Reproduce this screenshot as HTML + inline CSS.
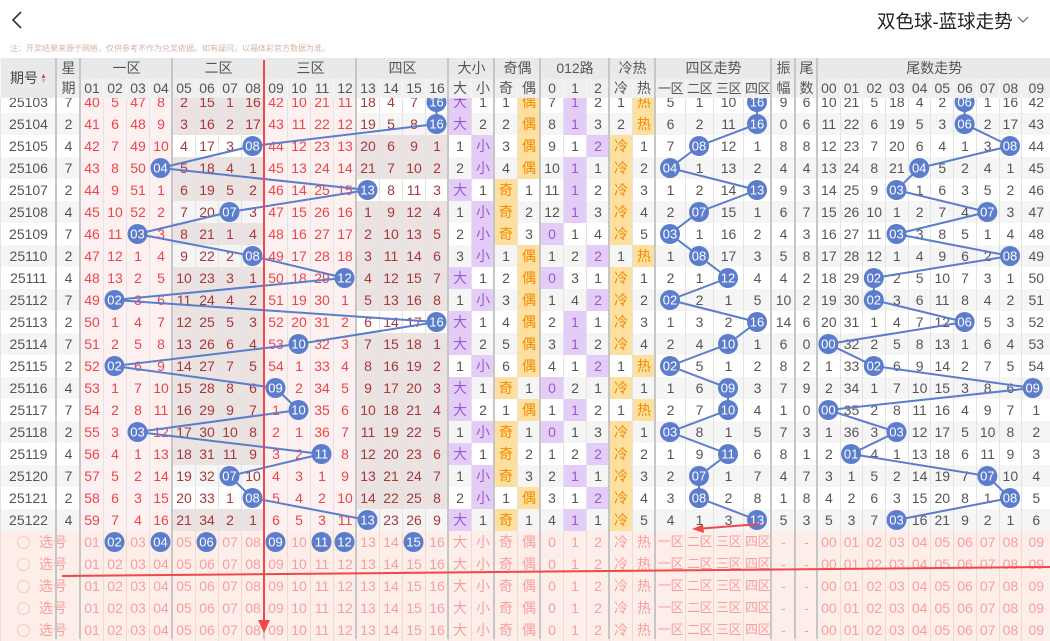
<!DOCTYPE html>
<html><head><meta charset="utf-8"><style>
*{margin:0;padding:0;box-sizing:border-box}
body{width:1050px;height:639px;overflow:hidden;background:#fff;font-family:"Liberation Sans","Noto Sans CJK SC",sans-serif;position:relative}
.abs{position:absolute}
table{border-collapse:collapse;table-layout:fixed;position:absolute;left:0}
td{height:22px;text-align:center;font-size:14px;color:#555;border-left:1px solid #e3e3e3;padding:0;white-space:nowrap;overflow:hidden;line-height:22px}
#body{top:91px}
#body tr:nth-child(even) td{background:#f5f5f5}
#body td:nth-child(n+3):nth-child(-n+6),#body td:nth-child(n+11):nth-child(-n+14){background:#fdf0f0!important;color:#e8474b}
#body td:nth-child(n+7):nth-child(-n+10),#body td:nth-child(n+15):nth-child(-n+18){background:#ebe2e2!important;color:#a8383a}
#body tr.n2 td:nth-child(n+7):nth-child(-n+10){background:transparent!important}
#body tr.n2:nth-child(even) td:nth-child(n+7):nth-child(-n+10){background:#f5f5f5!important}
#body tr.n4 td:nth-child(n+15):nth-child(-n+18){background:transparent!important}
#body tr.n4:nth-child(even) td:nth-child(n+15):nth-child(-n+18){background:#f5f5f5!important}
#body td.p{background:#e3cdf7!important;color:#9b59d0}
#body td.y{background:#fde0a0!important;color:#f08a00}
#sel{top:531px}
#sel td{background:#fdeee9;color:#f5a0a0;border-left:1px solid #f3d8d0}
#sel td:nth-child(n+27):nth-child(-n+30){font-size:13px;letter-spacing:-0.5px}
#hd{top:58px;z-index:5}
#hd td{background:#e9e9e9;color:#555;border-left:1px solid #f6f6f6;font-size:14px}
#hd tr:first-child td{height:21px;line-height:21px}
#hd tr:nth-child(2) td{height:19px;line-height:19px;background:#efefef}
#hd td.s{font-size:13px;letter-spacing:-0.5px}
.dv{position:absolute;top:58px;width:2px;height:581px;background:#c6c6c6;z-index:2}
</style></head><body>
<svg class="abs" style="left:0;top:0" width="40" height="40"><polyline points="21,12 13,20 21,28" fill="none" stroke="#333" stroke-width="1.6"/></svg>
<div class="abs" style="left:877px;top:8px;font-size:18.5px;color:#222;font-family:'Liberation Sans','Noto Sans CJK SC',sans-serif">双色球-蓝球走势</div>
<svg class="abs" style="left:1016px;top:14px" width="16" height="12"><polyline points="2,3 7,8 12,3" fill="none" stroke="#666" stroke-width="1.2"/></svg>
<div class="abs" style="left:10px;top:43px;font-size:8px;color:#d2b6a6;letter-spacing:0">注：开奖结果来源于网络，仅供参考不作为兑奖依据。如有疑问，以福体彩官方数据为准。</div>

<table id="body" style="width:1050px">
<colgroup><col style="width:56px"><col style="width:24px"><col span="16" style="width:23px"><col span="7" style="width:23px"><col span="2" style="width:23px"><col style="width:30px"><col style="width:28px"><col style="width:30px"><col style="width:28px"><col style="width:24px"><col style="width:22px"><col span="9" style="width:22.7px"><col style="width:28.7px"></colgroup>
<tr class="n4"><td>25103</td><td>7</td><td>40</td><td>5</td><td>47</td><td>8</td><td>2</td><td>15</td><td>1</td><td>16</td><td>42</td><td>10</td><td>21</td><td>11</td><td>18</td><td>4</td><td>7</td><td></td><td class="p">大</td><td>1</td><td>1</td><td class="y">偶</td><td>7</td><td class="p">1</td><td>2</td><td>1</td><td class="y">热</td><td>5</td><td>1</td><td>10</td><td></td><td>9</td><td>6</td><td>10</td><td>21</td><td>5</td><td>18</td><td>4</td><td>2</td><td></td><td>1</td><td>16</td><td>42</td></tr>
<tr class="n4"><td>25104</td><td>2</td><td>41</td><td>6</td><td>48</td><td>9</td><td>3</td><td>16</td><td>2</td><td>17</td><td>43</td><td>11</td><td>22</td><td>12</td><td>19</td><td>5</td><td>8</td><td></td><td class="p">大</td><td>2</td><td>2</td><td class="y">偶</td><td>8</td><td class="p">1</td><td>3</td><td>2</td><td class="y">热</td><td>6</td><td>2</td><td>11</td><td></td><td>0</td><td>6</td><td>11</td><td>22</td><td>6</td><td>19</td><td>5</td><td>3</td><td></td><td>2</td><td>17</td><td>43</td></tr>
<tr class="n2"><td>25105</td><td>4</td><td>42</td><td>7</td><td>49</td><td>10</td><td>4</td><td>17</td><td>3</td><td></td><td>44</td><td>12</td><td>23</td><td>13</td><td>20</td><td>6</td><td>9</td><td>1</td><td>1</td><td class="p">小</td><td>3</td><td class="y">偶</td><td>9</td><td>1</td><td class="p">2</td><td class="y">冷</td><td>1</td><td>7</td><td></td><td>12</td><td>1</td><td>8</td><td>8</td><td>12</td><td>23</td><td>7</td><td>20</td><td>6</td><td>4</td><td>1</td><td>3</td><td></td><td>44</td></tr>
<tr><td>25106</td><td>7</td><td>43</td><td>8</td><td>50</td><td></td><td>5</td><td>18</td><td>4</td><td>1</td><td>45</td><td>13</td><td>24</td><td>14</td><td>21</td><td>7</td><td>10</td><td>2</td><td>2</td><td class="p">小</td><td>4</td><td class="y">偶</td><td>10</td><td class="p">1</td><td>1</td><td class="y">冷</td><td>2</td><td></td><td>1</td><td>13</td><td>2</td><td>4</td><td>4</td><td>13</td><td>24</td><td>8</td><td>21</td><td></td><td>5</td><td>2</td><td>4</td><td>1</td><td>45</td></tr>
<tr class="n4"><td>25107</td><td>2</td><td>44</td><td>9</td><td>51</td><td>1</td><td>6</td><td>19</td><td>5</td><td>2</td><td>46</td><td>14</td><td>25</td><td>15</td><td></td><td>8</td><td>11</td><td>3</td><td class="p">大</td><td>1</td><td class="y">奇</td><td>1</td><td>11</td><td class="p">1</td><td>2</td><td class="y">冷</td><td>3</td><td>1</td><td>2</td><td>14</td><td></td><td>9</td><td>3</td><td>14</td><td>25</td><td>9</td><td></td><td>1</td><td>6</td><td>3</td><td>5</td><td>2</td><td>46</td></tr>
<tr class="n2"><td>25108</td><td>4</td><td>45</td><td>10</td><td>52</td><td>2</td><td>7</td><td>20</td><td></td><td>3</td><td>47</td><td>15</td><td>26</td><td>16</td><td>1</td><td>9</td><td>12</td><td>4</td><td>1</td><td class="p">小</td><td class="y">奇</td><td>2</td><td>12</td><td class="p">1</td><td>3</td><td class="y">冷</td><td>4</td><td>2</td><td></td><td>15</td><td>1</td><td>6</td><td>7</td><td>15</td><td>26</td><td>10</td><td>1</td><td>2</td><td>7</td><td>4</td><td></td><td>3</td><td>47</td></tr>
<tr><td>25109</td><td>7</td><td>46</td><td>11</td><td></td><td>3</td><td>8</td><td>21</td><td>1</td><td>4</td><td>48</td><td>16</td><td>27</td><td>17</td><td>2</td><td>10</td><td>13</td><td>5</td><td>2</td><td class="p">小</td><td class="y">奇</td><td>3</td><td class="p">0</td><td>1</td><td>4</td><td class="y">冷</td><td>5</td><td></td><td>1</td><td>16</td><td>2</td><td>4</td><td>3</td><td>16</td><td>27</td><td>11</td><td></td><td>3</td><td>8</td><td>5</td><td>1</td><td>4</td><td>48</td></tr>
<tr class="n2"><td>25110</td><td>2</td><td>47</td><td>12</td><td>1</td><td>4</td><td>9</td><td>22</td><td>2</td><td></td><td>49</td><td>17</td><td>28</td><td>18</td><td>3</td><td>11</td><td>14</td><td>6</td><td>3</td><td class="p">小</td><td>1</td><td class="y">偶</td><td>1</td><td>2</td><td class="p">2</td><td>1</td><td class="y">热</td><td>1</td><td></td><td>17</td><td>3</td><td>5</td><td>8</td><td>17</td><td>28</td><td>12</td><td>1</td><td>4</td><td>9</td><td>6</td><td>2</td><td></td><td>49</td></tr>
<tr><td>25111</td><td>4</td><td>48</td><td>13</td><td>2</td><td>5</td><td>10</td><td>23</td><td>3</td><td>1</td><td>50</td><td>18</td><td>29</td><td></td><td>4</td><td>12</td><td>15</td><td>7</td><td class="p">大</td><td>1</td><td>2</td><td class="y">偶</td><td class="p">0</td><td>3</td><td>1</td><td class="y">冷</td><td>1</td><td>2</td><td>1</td><td></td><td>4</td><td>4</td><td>2</td><td>18</td><td>29</td><td></td><td>2</td><td>5</td><td>10</td><td>7</td><td>3</td><td>1</td><td>50</td></tr>
<tr><td>25112</td><td>7</td><td>49</td><td></td><td>3</td><td>6</td><td>11</td><td>24</td><td>4</td><td>2</td><td>51</td><td>19</td><td>30</td><td>1</td><td>5</td><td>13</td><td>16</td><td>8</td><td>1</td><td class="p">小</td><td>3</td><td class="y">偶</td><td>1</td><td>4</td><td class="p">2</td><td class="y">冷</td><td>2</td><td></td><td>2</td><td>1</td><td>5</td><td>10</td><td>2</td><td>19</td><td>30</td><td></td><td>3</td><td>6</td><td>11</td><td>8</td><td>4</td><td>2</td><td>51</td></tr>
<tr class="n4"><td>25113</td><td>2</td><td>50</td><td>1</td><td>4</td><td>7</td><td>12</td><td>25</td><td>5</td><td>3</td><td>52</td><td>20</td><td>31</td><td>2</td><td>6</td><td>14</td><td>17</td><td></td><td class="p">大</td><td>1</td><td>4</td><td class="y">偶</td><td>2</td><td class="p">1</td><td>1</td><td class="y">冷</td><td>3</td><td>1</td><td>3</td><td>2</td><td></td><td>14</td><td>6</td><td>20</td><td>31</td><td>1</td><td>4</td><td>7</td><td>12</td><td></td><td>5</td><td>3</td><td>52</td></tr>
<tr><td>25114</td><td>7</td><td>51</td><td>2</td><td>5</td><td>8</td><td>13</td><td>26</td><td>6</td><td>4</td><td>53</td><td></td><td>32</td><td>3</td><td>7</td><td>15</td><td>18</td><td>1</td><td class="p">大</td><td>2</td><td>5</td><td class="y">偶</td><td>3</td><td class="p">1</td><td>2</td><td class="y">冷</td><td>4</td><td>2</td><td>4</td><td></td><td>1</td><td>6</td><td>0</td><td></td><td>32</td><td>2</td><td>5</td><td>8</td><td>13</td><td>1</td><td>6</td><td>4</td><td>53</td></tr>
<tr><td>25115</td><td>2</td><td>52</td><td></td><td>6</td><td>9</td><td>14</td><td>27</td><td>7</td><td>5</td><td>54</td><td>1</td><td>33</td><td>4</td><td>8</td><td>16</td><td>19</td><td>2</td><td>1</td><td class="p">小</td><td>6</td><td class="y">偶</td><td>4</td><td>1</td><td class="p">2</td><td>1</td><td class="y">热</td><td></td><td>5</td><td>1</td><td>2</td><td>8</td><td>2</td><td>1</td><td>33</td><td></td><td>6</td><td>9</td><td>14</td><td>2</td><td>7</td><td>5</td><td>54</td></tr>
<tr><td>25116</td><td>4</td><td>53</td><td>1</td><td>7</td><td>10</td><td>15</td><td>28</td><td>8</td><td>6</td><td></td><td>2</td><td>34</td><td>5</td><td>9</td><td>17</td><td>20</td><td>3</td><td class="p">大</td><td>1</td><td class="y">奇</td><td>1</td><td class="p">0</td><td>2</td><td>1</td><td class="y">冷</td><td>1</td><td>1</td><td>6</td><td></td><td>3</td><td>7</td><td>9</td><td>2</td><td>34</td><td>1</td><td>7</td><td>10</td><td>15</td><td>3</td><td>8</td><td>6</td><td></td></tr>
<tr><td>25117</td><td>7</td><td>54</td><td>2</td><td>8</td><td>11</td><td>16</td><td>29</td><td>9</td><td>7</td><td>1</td><td></td><td>35</td><td>6</td><td>10</td><td>18</td><td>21</td><td>4</td><td class="p">大</td><td>2</td><td>1</td><td class="y">偶</td><td>1</td><td class="p">1</td><td>2</td><td>1</td><td class="y">热</td><td>2</td><td>7</td><td></td><td>4</td><td>1</td><td>0</td><td></td><td>35</td><td>2</td><td>8</td><td>11</td><td>16</td><td>4</td><td>9</td><td>7</td><td>1</td></tr>
<tr><td>25118</td><td>2</td><td>55</td><td>3</td><td></td><td>12</td><td>17</td><td>30</td><td>10</td><td>8</td><td>2</td><td>1</td><td>36</td><td>7</td><td>11</td><td>19</td><td>22</td><td>5</td><td>1</td><td class="p">小</td><td class="y">奇</td><td>1</td><td class="p">0</td><td>1</td><td>3</td><td class="y">冷</td><td>1</td><td></td><td>8</td><td>1</td><td>5</td><td>7</td><td>3</td><td>1</td><td>36</td><td>3</td><td></td><td>12</td><td>17</td><td>5</td><td>10</td><td>8</td><td>2</td></tr>
<tr><td>25119</td><td>4</td><td>56</td><td>4</td><td>1</td><td>13</td><td>18</td><td>31</td><td>11</td><td>9</td><td>3</td><td>2</td><td></td><td>8</td><td>12</td><td>20</td><td>23</td><td>6</td><td class="p">大</td><td>1</td><td class="y">奇</td><td>2</td><td>1</td><td>2</td><td class="p">2</td><td class="y">冷</td><td>2</td><td>1</td><td>9</td><td></td><td>6</td><td>8</td><td>1</td><td>2</td><td></td><td>4</td><td>1</td><td>13</td><td>18</td><td>6</td><td>11</td><td>9</td><td>3</td></tr>
<tr class="n2"><td>25120</td><td>7</td><td>57</td><td>5</td><td>2</td><td>14</td><td>19</td><td>32</td><td></td><td>10</td><td>4</td><td>3</td><td>1</td><td>9</td><td>13</td><td>21</td><td>24</td><td>7</td><td>1</td><td class="p">小</td><td class="y">奇</td><td>3</td><td>2</td><td class="p">1</td><td>1</td><td class="y">冷</td><td>3</td><td>2</td><td></td><td>1</td><td>7</td><td>4</td><td>7</td><td>3</td><td>1</td><td>5</td><td>2</td><td>14</td><td>19</td><td>7</td><td></td><td>10</td><td>4</td></tr>
<tr class="n2"><td>25121</td><td>2</td><td>58</td><td>6</td><td>3</td><td>15</td><td>20</td><td>33</td><td>1</td><td></td><td>5</td><td>4</td><td>2</td><td>10</td><td>14</td><td>22</td><td>25</td><td>8</td><td>2</td><td class="p">小</td><td>1</td><td class="y">偶</td><td>3</td><td>1</td><td class="p">2</td><td class="y">冷</td><td>4</td><td>3</td><td></td><td>2</td><td>8</td><td>1</td><td>8</td><td>4</td><td>2</td><td>6</td><td>3</td><td>15</td><td>20</td><td>8</td><td>1</td><td></td><td>5</td></tr>
<tr class="n4"><td>25122</td><td>4</td><td>59</td><td>7</td><td>4</td><td>16</td><td>21</td><td>34</td><td>2</td><td>1</td><td>6</td><td>5</td><td>3</td><td>11</td><td></td><td>23</td><td>26</td><td>9</td><td class="p">大</td><td>1</td><td class="y">奇</td><td>1</td><td>4</td><td class="p">1</td><td>1</td><td class="y">冷</td><td>5</td><td>4</td><td>1</td><td>3</td><td></td><td>5</td><td>3</td><td>5</td><td>3</td><td>7</td><td></td><td>16</td><td>21</td><td>9</td><td>2</td><td>1</td><td>6</td></tr>
</table>

<table id="sel" style="width:1050px">
<colgroup><col style="width:56px"><col style="width:24px"><col span="16" style="width:23px"><col span="7" style="width:23px"><col span="2" style="width:23px"><col style="width:30px"><col style="width:28px"><col style="width:30px"><col style="width:28px"><col style="width:24px"><col style="width:22px"><col span="9" style="width:22.7px"><col style="width:28.7px"></colgroup>
<tr><td colspan="2" style="text-align:left;padding-left:16px"><span style="display:inline-block;width:13px;height:13px;border:1px solid #f8c8c0;border-radius:50%;vertical-align:-2px"></span> <span style="margin-left:5px">选号</span></td><td>01</td><td>02</td><td>03</td><td>04</td><td>05</td><td>06</td><td>07</td><td>08</td><td>09</td><td>10</td><td>11</td><td>12</td><td>13</td><td>14</td><td>15</td><td>16</td><td>大</td><td>小</td><td>奇</td><td>偶</td><td>0</td><td>1</td><td>2</td><td>冷</td><td>热</td><td>一区</td><td>二区</td><td>三区</td><td>四区</td><td>-</td><td>-</td><td>00</td><td>01</td><td>02</td><td>03</td><td>04</td><td>05</td><td>06</td><td>07</td><td>08</td><td>09</td></tr>
<tr><td colspan="2" style="text-align:left;padding-left:16px"><span style="display:inline-block;width:13px;height:13px;border:1px solid #f8c8c0;border-radius:50%;vertical-align:-2px"></span> <span style="margin-left:5px">选号</span></td><td>01</td><td>02</td><td>03</td><td>04</td><td>05</td><td>06</td><td>07</td><td>08</td><td>09</td><td>10</td><td>11</td><td>12</td><td>13</td><td>14</td><td>15</td><td>16</td><td>大</td><td>小</td><td>奇</td><td>偶</td><td>0</td><td>1</td><td>2</td><td>冷</td><td>热</td><td>一区</td><td>二区</td><td>三区</td><td>四区</td><td>-</td><td>-</td><td>00</td><td>01</td><td>02</td><td>03</td><td>04</td><td>05</td><td>06</td><td>07</td><td>08</td><td>09</td></tr>
<tr><td colspan="2" style="text-align:left;padding-left:16px"><span style="display:inline-block;width:13px;height:13px;border:1px solid #f8c8c0;border-radius:50%;vertical-align:-2px"></span> <span style="margin-left:5px">选号</span></td><td>01</td><td>02</td><td>03</td><td>04</td><td>05</td><td>06</td><td>07</td><td>08</td><td>09</td><td>10</td><td>11</td><td>12</td><td>13</td><td>14</td><td>15</td><td>16</td><td>大</td><td>小</td><td>奇</td><td>偶</td><td>0</td><td>1</td><td>2</td><td>冷</td><td>热</td><td>一区</td><td>二区</td><td>三区</td><td>四区</td><td>-</td><td>-</td><td>00</td><td>01</td><td>02</td><td>03</td><td>04</td><td>05</td><td>06</td><td>07</td><td>08</td><td>09</td></tr>
<tr><td colspan="2" style="text-align:left;padding-left:16px"><span style="display:inline-block;width:13px;height:13px;border:1px solid #f8c8c0;border-radius:50%;vertical-align:-2px"></span> <span style="margin-left:5px">选号</span></td><td>01</td><td>02</td><td>03</td><td>04</td><td>05</td><td>06</td><td>07</td><td>08</td><td>09</td><td>10</td><td>11</td><td>12</td><td>13</td><td>14</td><td>15</td><td>16</td><td>大</td><td>小</td><td>奇</td><td>偶</td><td>0</td><td>1</td><td>2</td><td>冷</td><td>热</td><td>一区</td><td>二区</td><td>三区</td><td>四区</td><td>-</td><td>-</td><td>00</td><td>01</td><td>02</td><td>03</td><td>04</td><td>05</td><td>06</td><td>07</td><td>08</td><td>09</td></tr>
<tr><td colspan="2" style="text-align:left;padding-left:16px"><span style="display:inline-block;width:13px;height:13px;border:1px solid #f8c8c0;border-radius:50%;vertical-align:-2px"></span> <span style="margin-left:5px">选号</span></td><td>01</td><td>02</td><td>03</td><td>04</td><td>05</td><td>06</td><td>07</td><td>08</td><td>09</td><td>10</td><td>11</td><td>12</td><td>13</td><td>14</td><td>15</td><td>16</td><td>大</td><td>小</td><td>奇</td><td>偶</td><td>0</td><td>1</td><td>2</td><td>冷</td><td>热</td><td>一区</td><td>二区</td><td>三区</td><td>四区</td><td>-</td><td>-</td><td>00</td><td>01</td><td>02</td><td>03</td><td>04</td><td>05</td><td>06</td><td>07</td><td>08</td><td>09</td></tr>
</table>

<div class="dv" style="left:55px"></div><div class="dv" style="left:79px"></div><div class="dv" style="left:171px"></div><div class="dv" style="left:263px;background:#c9c9c9"></div><div class="dv" style="left:355px"></div><div class="dv" style="left:447px"></div><div class="dv" style="left:493px"></div><div class="dv" style="left:539px"></div><div class="dv" style="left:608px"></div><div class="dv" style="left:654px"></div><div class="dv" style="left:770px"></div><div class="dv" style="left:794px"></div><div class="dv" style="left:816px"></div>

<svg class="abs" style="left:0;top:0;z-index:3" width="1050" height="639" font-family="Liberation Sans, sans-serif">
<g fill="none" stroke="#5b7dcb" stroke-width="2">
<polyline points="436.5,102 436.5,124 252.5,146 160.5,168 367.5,190 229.5,212 137.5,234 252.5,256 344.5,278 114.5,300 436.5,322 298.5,344 114.5,366 275.5,388 298.5,410 137.5,432 321.5,454 229.5,476 252.5,498 367.5,520"/>
<polyline points="757,102 757,124 699,146 670,168 757,190 699,212 670,234 699,256 728,278 670,300 757,322 728,344 670,366 728,388 728,410 670,432 728,454 699,476 699,498 757,520"/>
<polyline points="964.6,102 964.6,124 1010,146 919.2,168 896.5,190 987.3,212 896.5,234 1010,256 873.8,278 873.8,300 964.6,322 828.4,344 873.8,366 1032.7,388 828.4,410 896.5,432 851.1,454 987.3,476 1010,498 896.5,520"/>
</g>
<g fill="#5b7dcb">
<circle cx="436.5" cy="102" r="10"/><circle cx="436.5" cy="124" r="10"/><circle cx="252.5" cy="146" r="10"/><circle cx="160.5" cy="168" r="10"/><circle cx="367.5" cy="190" r="10"/><circle cx="229.5" cy="212" r="10"/><circle cx="137.5" cy="234" r="10"/><circle cx="252.5" cy="256" r="10"/><circle cx="344.5" cy="278" r="10"/><circle cx="114.5" cy="300" r="10"/><circle cx="436.5" cy="322" r="10"/><circle cx="298.5" cy="344" r="10"/><circle cx="114.5" cy="366" r="10"/><circle cx="275.5" cy="388" r="10"/><circle cx="298.5" cy="410" r="10"/><circle cx="137.5" cy="432" r="10"/><circle cx="321.5" cy="454" r="10"/><circle cx="229.5" cy="476" r="10"/><circle cx="252.5" cy="498" r="10"/><circle cx="367.5" cy="520" r="10"/>
<circle cx="757" cy="102" r="10"/><circle cx="757" cy="124" r="10"/><circle cx="699" cy="146" r="10"/><circle cx="670" cy="168" r="10"/><circle cx="757" cy="190" r="10"/><circle cx="699" cy="212" r="10"/><circle cx="670" cy="234" r="10"/><circle cx="699" cy="256" r="10"/><circle cx="728" cy="278" r="10"/><circle cx="670" cy="300" r="10"/><circle cx="757" cy="322" r="10"/><circle cx="728" cy="344" r="10"/><circle cx="670" cy="366" r="10"/><circle cx="728" cy="388" r="10"/><circle cx="728" cy="410" r="10"/><circle cx="670" cy="432" r="10"/><circle cx="728" cy="454" r="10"/><circle cx="699" cy="476" r="10"/><circle cx="699" cy="498" r="10"/><circle cx="757" cy="520" r="10"/>
<circle cx="964.6" cy="102" r="10"/><circle cx="964.6" cy="124" r="10"/><circle cx="1010" cy="146" r="10"/><circle cx="919.2" cy="168" r="10"/><circle cx="896.5" cy="190" r="10"/><circle cx="987.3" cy="212" r="10"/><circle cx="896.5" cy="234" r="10"/><circle cx="1010" cy="256" r="10"/><circle cx="873.8" cy="278" r="10"/><circle cx="873.8" cy="300" r="10"/><circle cx="964.6" cy="322" r="10"/><circle cx="828.4" cy="344" r="10"/><circle cx="873.8" cy="366" r="10"/><circle cx="1032.7" cy="388" r="10"/><circle cx="828.4" cy="410" r="10"/><circle cx="896.5" cy="432" r="10"/><circle cx="851.1" cy="454" r="10"/><circle cx="987.3" cy="476" r="10"/><circle cx="1010" cy="498" r="10"/><circle cx="896.5" cy="520" r="10"/>
<circle cx="114.5" cy="542" r="10"/><circle cx="160.5" cy="542" r="10"/><circle cx="206.5" cy="542" r="10"/><circle cx="275.5" cy="542" r="10"/><circle cx="321.5" cy="542" r="10"/><circle cx="344.5" cy="542" r="10"/><circle cx="413.5" cy="542" r="10"/>
</g>
<g fill="#fff" font-size="13" text-anchor="middle">
<text x="436.5" y="106.5">16</text><text x="436.5" y="128.5">16</text><text x="252.5" y="150.5">08</text><text x="160.5" y="172.5">04</text><text x="367.5" y="194.5">13</text><text x="229.5" y="216.5">07</text><text x="137.5" y="238.5">03</text><text x="252.5" y="260.5">08</text><text x="344.5" y="282.5">12</text><text x="114.5" y="304.5">02</text><text x="436.5" y="326.5">16</text><text x="298.5" y="348.5">10</text><text x="114.5" y="370.5">02</text><text x="275.5" y="392.5">09</text><text x="298.5" y="414.5">10</text><text x="137.5" y="436.5">03</text><text x="321.5" y="458.5">11</text><text x="229.5" y="480.5">07</text><text x="252.5" y="502.5">08</text><text x="367.5" y="524.5">13</text>
<text x="757" y="106.5">16</text><text x="757" y="128.5">16</text><text x="699" y="150.5">08</text><text x="670" y="172.5">04</text><text x="757" y="194.5">13</text><text x="699" y="216.5">07</text><text x="670" y="238.5">03</text><text x="699" y="260.5">08</text><text x="728" y="282.5">12</text><text x="670" y="304.5">02</text><text x="757" y="326.5">16</text><text x="728" y="348.5">10</text><text x="670" y="370.5">02</text><text x="728" y="392.5">09</text><text x="728" y="414.5">10</text><text x="670" y="436.5">03</text><text x="728" y="458.5">11</text><text x="699" y="480.5">07</text><text x="699" y="502.5">08</text><text x="757" y="524.5">13</text>
<text x="964.6" y="106.5">06</text><text x="964.6" y="128.5">06</text><text x="1010" y="150.5">08</text><text x="919.2" y="172.5">04</text><text x="896.5" y="194.5">03</text><text x="987.3" y="216.5">07</text><text x="896.5" y="238.5">03</text><text x="1010" y="260.5">08</text><text x="873.8" y="282.5">02</text><text x="873.8" y="304.5">02</text><text x="964.6" y="326.5">06</text><text x="828.4" y="348.5">00</text><text x="873.8" y="370.5">02</text><text x="1032.7" y="392.5">09</text><text x="828.4" y="414.5">00</text><text x="896.5" y="436.5">03</text><text x="851.1" y="458.5">01</text><text x="987.3" y="480.5">07</text><text x="1010" y="502.5">08</text><text x="896.5" y="524.5">03</text>
<text x="114.5" y="546.5">02</text><text x="160.5" y="546.5">04</text><text x="206.5" y="546.5">06</text><text x="275.5" y="546.5">09</text><text x="321.5" y="546.5">11</text><text x="344.5" y="546.5">12</text><text x="413.5" y="546.5">15</text>
</g>
</svg>

<table id="hd" style="width:1050px">
<colgroup><col style="width:56px"><col style="width:24px"><col span="16" style="width:23px"><col span="7" style="width:23px"><col span="2" style="width:23px"><col style="width:30px"><col style="width:28px"><col style="width:30px"><col style="width:28px"><col style="width:24px"><col style="width:22px"><col span="9" style="width:22.7px"><col style="width:28.7px"></colgroup>
<tr><td rowspan="2" style="font-size:14px;color:#444">期号<span style="display:inline-block;vertical-align:middle;margin-left:2px;line-height:5px;font-size:7px"><span style="color:#e84545">▲</span><br><span style="color:#bbb">▼</span></span></td><td>星</td><td colspan="4">一区</td><td colspan="4">二区</td><td colspan="4">三区</td><td colspan="4">四区</td><td colspan="2">大小</td><td colspan="2">奇偶</td><td colspan="3">012路</td><td colspan="2">冷热</td><td colspan="4">四区走势</td><td>振</td><td>尾</td><td colspan="10">尾数走势</td></tr>
<tr><td>期</td><td>01</td><td>02</td><td>03</td><td>04</td><td>05</td><td>06</td><td>07</td><td>08</td><td>09</td><td>10</td><td>11</td><td>12</td><td>13</td><td>14</td><td>15</td><td>16</td><td>大</td><td>小</td><td>奇</td><td>偶</td><td>0</td><td>1</td><td>2</td><td>冷</td><td>热</td><td class="s">一区</td><td class="s">二区</td><td class="s">三区</td><td class="s">四区</td><td>幅</td><td>数</td><td>00</td><td>01</td><td>02</td><td>03</td><td>04</td><td>05</td><td>06</td><td>07</td><td>08</td><td>09</td></tr>
</table>
<div class="dv" style="left:55px;height:40px;z-index:6"></div><div class="dv" style="left:79px;height:40px;z-index:6"></div><div class="dv" style="left:171px;height:40px;z-index:6"></div><div class="dv" style="left:355px;height:40px;z-index:6"></div><div class="dv" style="left:447px;height:40px;z-index:6"></div><div class="dv" style="left:493px;height:40px;z-index:6"></div><div class="dv" style="left:539px;height:40px;z-index:6"></div><div class="dv" style="left:608px;height:40px;z-index:6"></div><div class="dv" style="left:654px;height:40px;z-index:6"></div><div class="dv" style="left:770px;height:40px;z-index:6"></div><div class="dv" style="left:794px;height:40px;z-index:6"></div><div class="dv" style="left:816px;height:40px;z-index:6"></div>

<svg class="abs" style="left:0;top:0;z-index:9" width="1050" height="639">
<line x1="264" y1="60" x2="264" y2="626" stroke="#f04848" stroke-width="2"/>
<polygon points="258,620 270,620 264,633" fill="#f04848"/>
<line x1="62" y1="576" x2="1050" y2="567" stroke="#f04848" stroke-width="2"/>
<line x1="760" y1="524" x2="702" y2="528.5" stroke="#f04848" stroke-width="2"/>
<polygon points="692,529 703,524.5 704,533" fill="#f04848"/>
</svg>
</body></html>
